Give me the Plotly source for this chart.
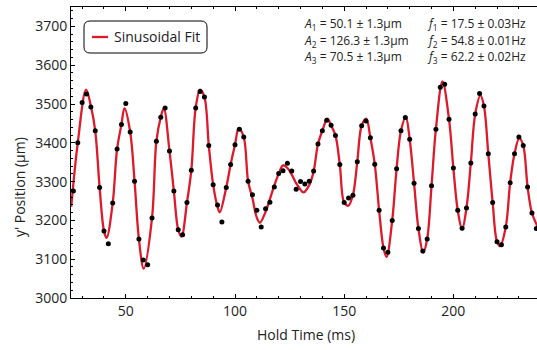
import plotly.graph_objects as go

# Measured data (hold time in ms, y' position in µm)
hold_time = [26, 28, 30, 32, 34, 36, 38, 40, 42, 44, 46, 48, 50, 52, 54, 56, 58, 60, 62, 64,
             66, 68, 70, 72, 74, 76, 78, 80, 82, 84, 86, 88, 90, 92, 94, 96, 98, 100, 102, 104,
             106, 108, 110, 112, 114, 116, 118, 120, 122, 124, 126, 128, 130, 132, 134, 136, 138,
             140, 142, 144, 146, 148, 150, 152, 154, 156, 158, 160, 162, 164, 166, 168, 170, 172,
             174, 176, 178, 180, 182, 184, 186, 188, 190, 192, 194, 196, 198, 200, 202, 204, 206,
             208, 210, 212, 214, 216, 218, 220, 222, 224, 226, 228, 230, 232, 234, 236, 238]
position = [3276, 3400, 3504, 3526, 3492, 3431, 3285, 3173, 3140, 3245, 3384, 3447, 3501, 3428,
            3301, 3152, 3098, 3086, 3206, 3404, 3466, 3490, 3379, 3276, 3176, 3163, 3246, 3329,
            3490, 3532, 3518, 3393, 3292, 3240, 3196, 3285, 3344, 3395, 3435, 3415, 3301, 3266,
            3226, 3183, 3230, 3247, 3286, 3321, 3328, 3347, 3327, 3280, 3300, 3294, 3301, 3327,
            3397, 3431, 3458, 3445, 3419, 3344, 3246, 3258, 3265, 3351, 3444, 3456, 3413, 3345,
            3226, 3129, 3118, 3200, 3333, 3431, 3465, 3409, 3296, 3179, 3121, 3152, 3289, 3435,
            3543, 3551, 3461, 3335, 3226, 3180, 3232, 3348, 3474, 3527, 3495, 3372, 3246, 3145,
            3137, 3183, 3297, 3372, 3415, 3393, 3286, 3219, 3179]

# Sinusoidal fit curve
fit_time = [25, 28, 31.8, 34, 36, 38, 40, 41.2, 44, 46, 48, 49.4, 52, 54, 56, 58.2, 62, 64, 66,
            67.4, 70, 72, 74, 75.5, 78, 80, 82, 84, 86, 88, 90, 92, 93, 96, 98, 100, 101.7, 104,
            106, 108, 110, 111.4, 114, 116, 118, 120, 122, 124, 126, 128, 130, 131.3, 134, 136,
            138, 140, 142.3, 144, 146, 148, 150, 151.9, 154, 156, 158, 160.1, 162, 164, 166, 168,
            169.4, 172, 174, 176, 178.2, 180, 182, 184, 186.2, 188, 190, 192, 195, 198, 200, 202,
            204, 206, 208, 210, 212.4, 214, 216, 218, 220, 221.4, 224, 226, 228, 230.2, 232, 234,
            236, 238.5]
fit_pos = [3235, 3400, 3537, 3495, 3431, 3285, 3173, 3155, 3245, 3384, 3447, 3489, 3428, 3301,
           3152, 3076, 3206, 3404, 3466, 3489, 3379, 3276, 3176, 3158, 3246, 3329, 3490, 3537,
           3518, 3393, 3292, 3235, 3221, 3285, 3344, 3395, 3438, 3415, 3301, 3257, 3207, 3194,
           3222, 3255, 3290, 3320, 3342, 3335, 3318, 3296, 3279, 3272, 3291, 3326, 3397, 3431,
           3462, 3445, 3419, 3344, 3246, 3238, 3265, 3351, 3444, 3462, 3413, 3345, 3226, 3129,
           3106, 3200, 3333, 3431, 3467, 3409, 3296, 3179, 3117, 3152, 3289, 3435, 3558, 3461,
           3335, 3226, 3177, 3232, 3348, 3474, 3522, 3495, 3372, 3246, 3145, 3134, 3183, 3297,
           3372, 3412, 3393, 3286, 3219, 3185]

x_ticks = [50, 100, 150, 200]
y_ticks = [3000, 3100, 3200, 3300, 3400, 3500, 3600, 3700]

fit_labels = [
    "<i>A</i><sub>1</sub> = 50.1 ± 1.3μm",
    "<i>A</i><sub>2</sub> = 126.3 ± 1.3μm",
    "<i>A</i><sub>3</sub> = 70.5 ± 1.3μm",
]
freq_labels = [
    "<i>f</i><sub>1</sub> = 17.5 ± 0.03Hz",
    "<i>f</i><sub>2</sub> = 54.8 ± 0.01Hz",
    "<i>f</i><sub>3</sub> = 62.2 ± 0.02Hz",
]

RED = "#dc1a2c"
FONT = "Open Sans"
W, H = 537, 350
L, R, T, B = 71, 537, 7, 298


def px(xp):
    return (xp - L) / (R - L)


def py(yp):
    return (B - yp) / (B - T)


fig = go.Figure()
fig.add_trace(go.Scatter(x=fit_time, y=fit_pos, mode="lines",
                         line=dict(color=RED, width=2.3, shape="spline", smoothing=1.0),
                         name="Sinusoidal Fit", hoverinfo="skip"))
fig.add_trace(go.Scatter(x=hold_time, y=position, mode="markers",
                         marker=dict(color="black", size=5), name="data"))

axis_common = dict(showgrid=False, zeroline=False, showline=True, linecolor="black",
                   linewidth=1, ticks="inside", tickcolor="black", tickwidth=1,
                   tickfont=dict(family=FONT, size=14, color="#222"))
fig.update_xaxes(range=[24.9, 238.3], tickvals=x_ticks, ticklen=4, mirror="allticks",
                 minor=dict(dtick=10, tick0=0, ticklen=2, ticks="inside", tickcolor="black"),
                 **axis_common)
fig.update_yaxes(range=[3000, 3750], tickvals=y_ticks, ticklen=4,
                 minor=dict(dtick=20, tick0=3000, ticklen=2, ticks="inside", tickcolor="black"),
                 **axis_common)

# Legend box (rounded)
x0, x1, y0, y1 = 84, 207, 21, 53
r = 6
path = (f"M {px(x0 + r)} {py(y0)} L {px(x1 - r)} {py(y0)} Q {px(x1)} {py(y0)} {px(x1)} {py(y0 + r)} "
        f"L {px(x1)} {py(y1 - r)} Q {px(x1)} {py(y1)} {px(x1 - r)} {py(y1)} "
        f"L {px(x0 + r)} {py(y1)} Q {px(x0)} {py(y1)} {px(x0)} {py(y1 - r)} "
        f"L {px(x0)} {py(y0 + r)} Q {px(x0)} {py(y0)} {px(x0 + r)} {py(y0)} Z")
fig.add_shape(type="path", path=path, xref="paper", yref="paper",
              line=dict(color="black", width=1), fillcolor="white", layer="above")
fig.add_shape(type="line", xref="paper", yref="paper", x0=px(92), x1=px(108), y0=py(37), y1=py(37),
              line=dict(color=RED, width=2.3), layer="above")
fig.add_annotation(text="Sinusoidal Fit", xref="paper", yref="paper", x=px(112), y=py(37),
                   xanchor="left", yanchor="middle", showarrow=False,
                   font=dict(family=FONT, size=14, color="#222"))

rows = [24, 41, 57]
for i, yy in enumerate(rows):
    fig.add_annotation(text=fit_labels[i], xref="paper", yref="paper", x=px(302), y=py(yy),
                       xanchor="left", yanchor="middle", showarrow=False,
                       font=dict(family=FONT, size=12, color="#222"))
    fig.add_annotation(text=freq_labels[i], xref="paper", yref="paper", x=px(425), y=py(yy),
                       xanchor="left", yanchor="middle", showarrow=False,
                       font=dict(family=FONT, size=12, color="#222"))

fig.add_annotation(text="Hold Time (ms)", xref="paper", yref="paper", x=px(306), y=py(334),
                   xanchor="center", yanchor="middle", showarrow=False,
                   font=dict(family=FONT, size=14, color="#222"))
fig.add_annotation(text="y' Position (μm)", xref="paper", yref="paper", x=px(19), y=py(187),
                   xanchor="center", yanchor="middle", showarrow=False, textangle=-90,
                   font=dict(family=FONT, size=14, color="#222"))

fig.update_layout(width=W, height=H, margin=dict(l=L, r=W - R, t=T, b=H - B),
                  paper_bgcolor="white", plot_bgcolor="white", showlegend=False)

fig.write_html("out.html", config={"displayModeBar": False},
               post_script="document.body.style.margin='0';document.body.style.padding='0';"
                           "document.body.style.overflow='hidden';"
                           "document.documentElement.style.overflow='hidden';")
